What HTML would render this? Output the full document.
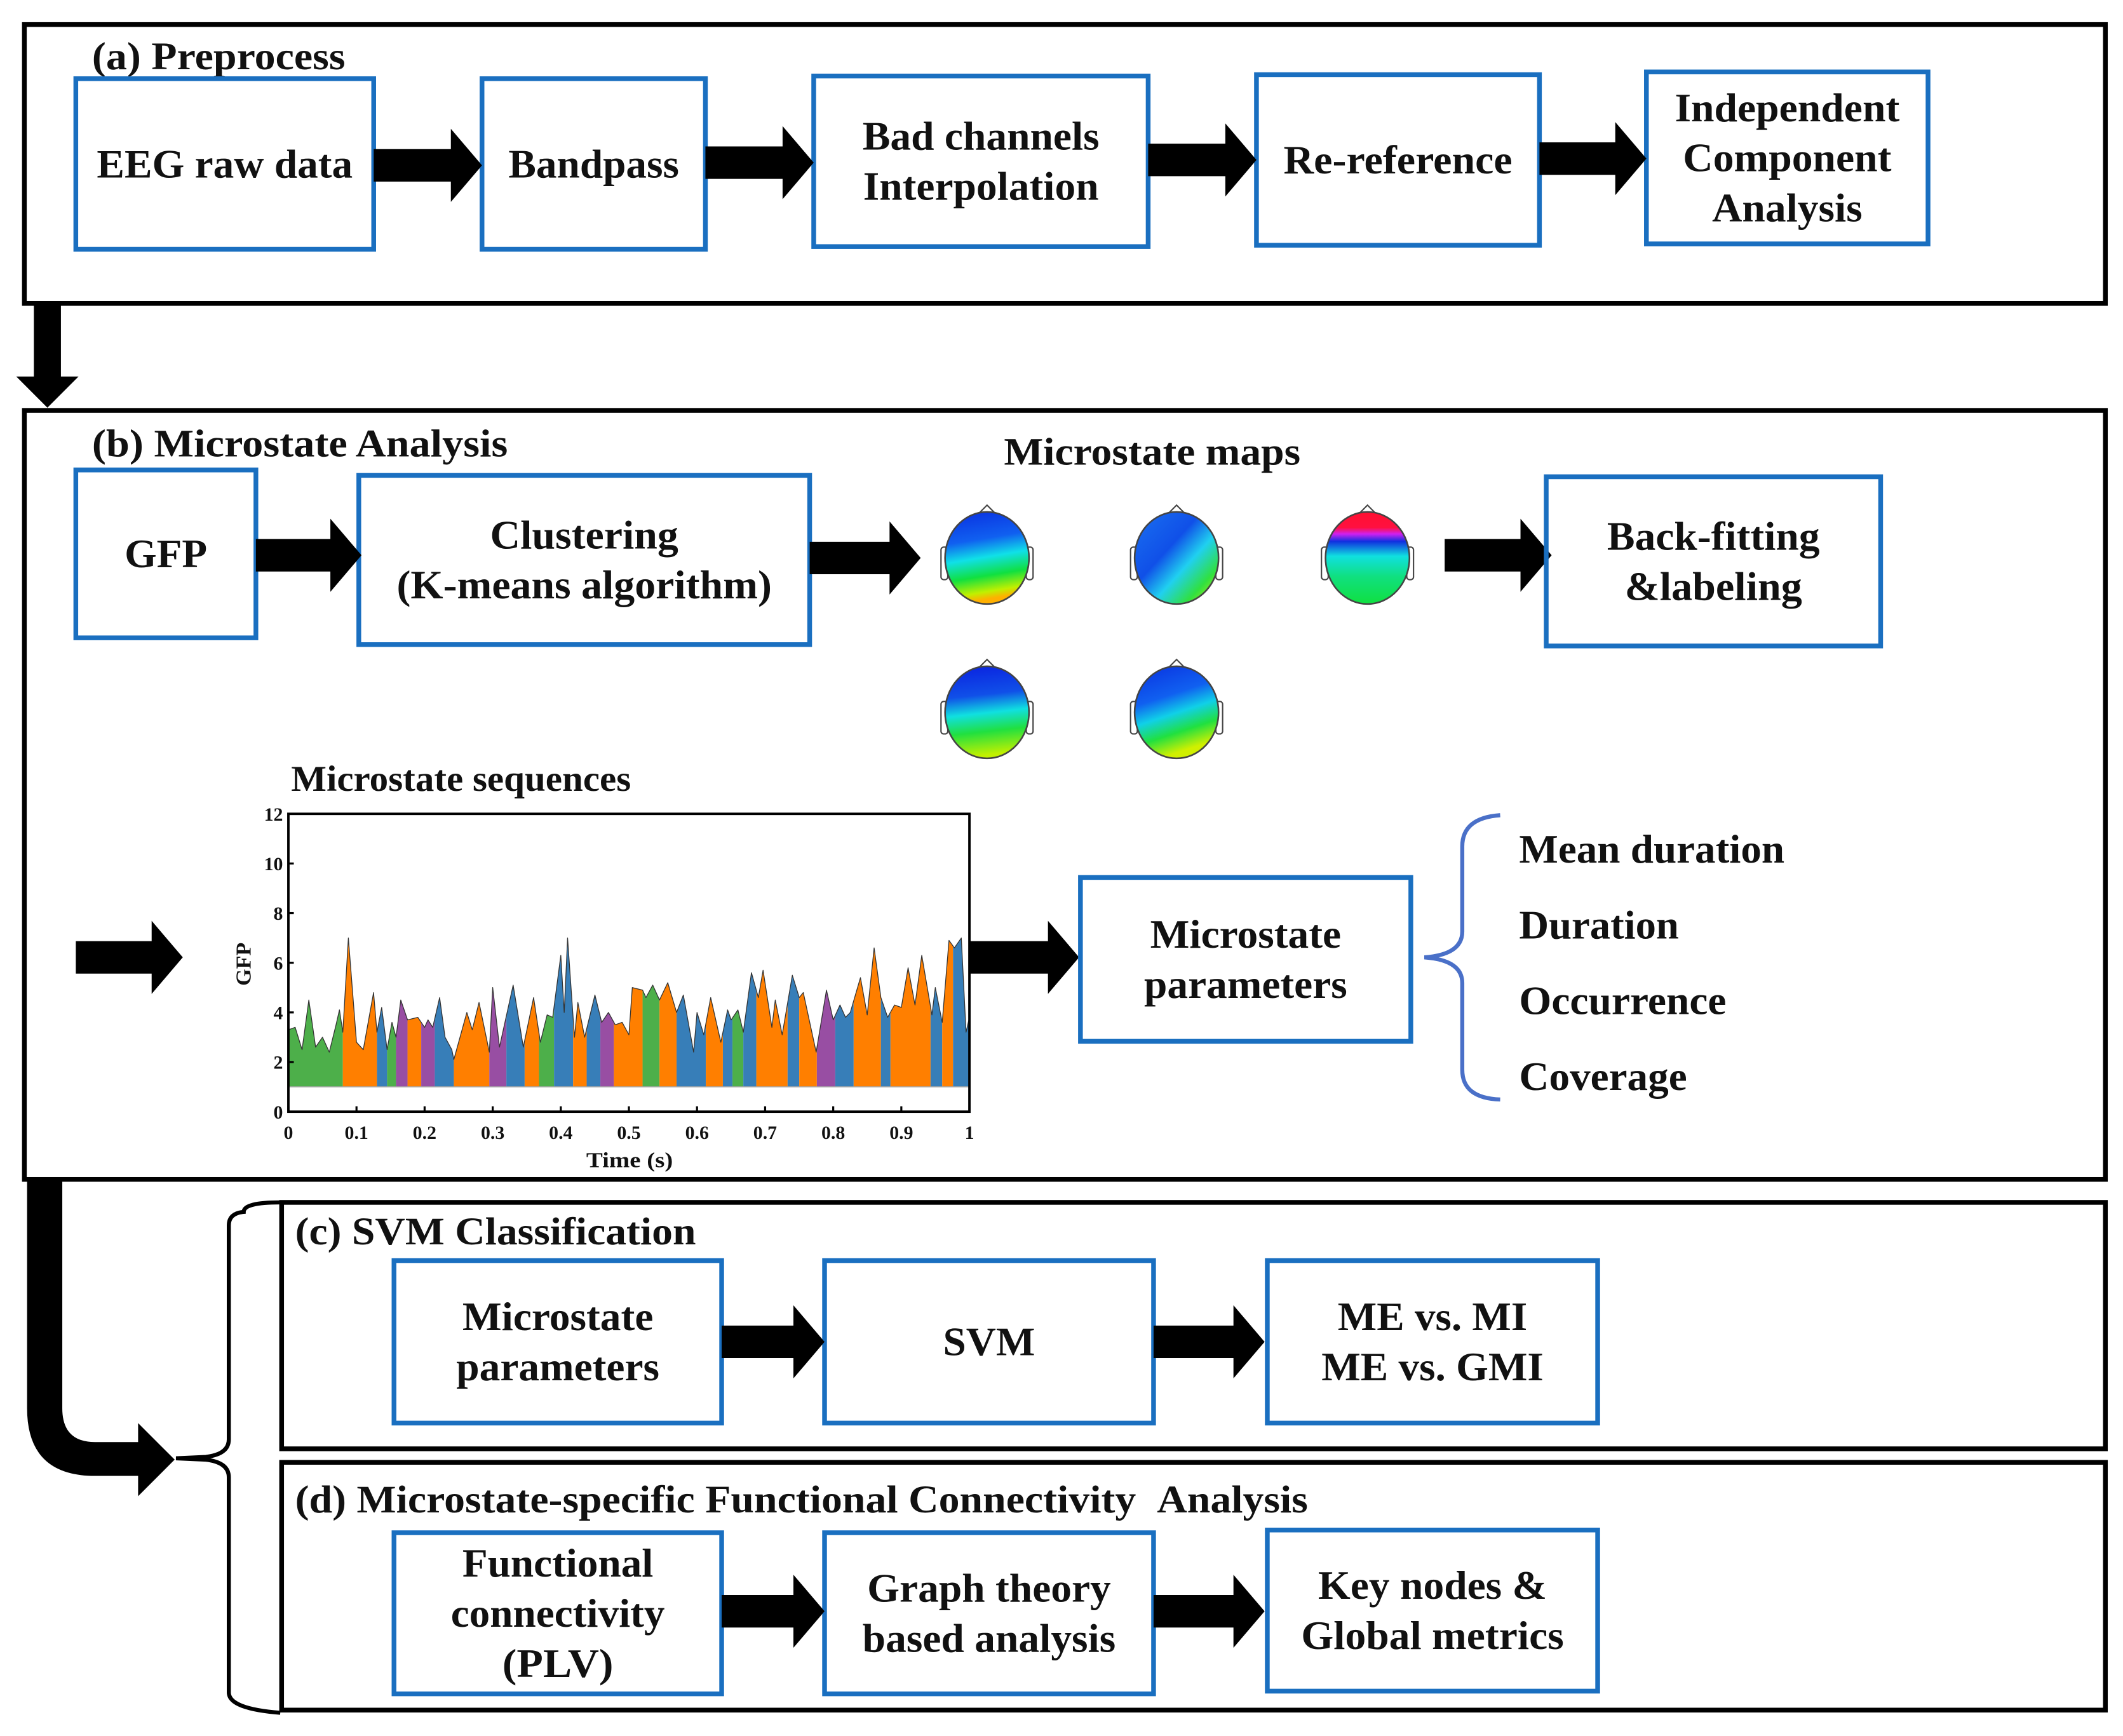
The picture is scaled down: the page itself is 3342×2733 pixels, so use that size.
<!DOCTYPE html>
<html><head><meta charset="utf-8">
<style>
html,body{margin:0;padding:0;background:#fff;}
svg{display:block;font-family:"Liberation Serif","Times New Roman",serif;}
text{font-family:"Liberation Serif","Times New Roman",serif;font-weight:700;fill:#111;}
</style></head>
<body>
<svg id="s" xmlns="http://www.w3.org/2000/svg" width="3342" height="2733" viewBox="0 0 1568 1282" font-family="Liberation Serif, serif">
<defs>
<linearGradient id="g1" x1="0" y1="0" x2="0.15" y2="1">
<stop offset="0" stop-color="#0a2ee0"/><stop offset="0.35" stop-color="#1060f0"/><stop offset="0.55" stop-color="#10e0e8"/><stop offset="0.75" stop-color="#10e040"/><stop offset="0.92" stop-color="#c0f000"/><stop offset="1" stop-color="#ffb000"/></linearGradient>
<linearGradient id="g2" x1="0" y1="0" x2="1" y2="1">
<stop offset="0" stop-color="#1a70f0"/><stop offset="0.4" stop-color="#1050e8"/><stop offset="0.6" stop-color="#20d0f0"/><stop offset="0.8" stop-color="#30e040"/><stop offset="1" stop-color="#e0f000"/></linearGradient>
<linearGradient id="g3" x1="0" y1="0" x2="0" y2="1">
<stop offset="0" stop-color="#ff1030"/><stop offset="0.17" stop-color="#ff1040"/><stop offset="0.24" stop-color="#d020f0"/><stop offset="0.32" stop-color="#1030e0"/><stop offset="0.48" stop-color="#10e0e0"/><stop offset="0.7" stop-color="#10e080"/><stop offset="1" stop-color="#10e040"/></linearGradient>
<linearGradient id="g4" x1="0" y1="0" x2="0.1" y2="1">
<stop offset="0" stop-color="#0a20e0"/><stop offset="0.35" stop-color="#1050e8"/><stop offset="0.55" stop-color="#10e0e0"/><stop offset="0.75" stop-color="#20e040"/><stop offset="1" stop-color="#c0f000"/></linearGradient>
<linearGradient id="g5" x1="0" y1="0" x2="0.3" y2="1">
<stop offset="0" stop-color="#0a30e0"/><stop offset="0.4" stop-color="#1060f0"/><stop offset="0.6" stop-color="#10d0e8"/><stop offset="0.8" stop-color="#20e040"/><stop offset="1" stop-color="#d0f000"/></linearGradient>
</defs>
<g id="main"></g>
</svg>
<script>
var S='';
function rect(x1,y1,x2,y2,c,w){S+='<rect x="'+x1+'" y="'+y1+'" width="'+(x2-x1)+'" height="'+(y2-y1)+'" fill="none" stroke="'+c+'" stroke-width="'+w+'"/>';}
function box(x1,y1,x2,y2){rect(x1,y1,x2,y2,'#1a6fc0',3.5);}
function txt(x,y,t,sz,anc,len){S+='<text x="'+x+'" y="'+y+'" font-family="Liberation Serif, serif" font-weight="bold" font-size="'+sz+'" text-anchor="'+(anc||'start')+'"'+(len?' textLength="'+len+'" lengthAdjust="spacingAndGlyphs"':'')+'>'+t+'</text>';}
function btxt(x1,y1,x2,y2,lines,lens,sz,lh){sz=sz||30;lh=lh||37;var cx=(x1+x2)/2,cy=(y1+y2)/2;var n=lines.length;for(var i=0;i<n;i++){txt(cx,cy+(i-(n-1)/2)*lh+sz*0.33,lines[i],sz,'middle',lens[i]);}}
function arr(x1,x2,y){var h=23;S+='<polygon points="'+x1+','+(y-12)+' '+(x2-h)+','+(y-12)+' '+(x2-h)+','+(y-27)+' '+x2+','+y+' '+(x2-h)+','+(y+27)+' '+(x2-h)+','+(y+12)+' '+x1+','+(y+12)+'" fill="#000"/>';}
rect(18,18,1555,224,'#000',3.5);
txt(68,51,'(a) Preprocess',29,'start',187);
box(56,58,276,184);btxt(56,58,276,184,['EEG raw data'],[189]);
box(356,58,521,184);btxt(356,58,521,184,['Bandpass'],[126]);
box(601,56,848,182);btxt(601,56,848,182,['Bad channels','Interpolation'],[175,174]);
box(928,55,1137,181);btxt(928,55,1137,181,['Re-reference'],[169]);
box(1216,53,1424,180);btxt(1216,53,1424,180,['Independent','Component','Analysis'],[166,154,111]);
arr(276,356,122);arr(521,601,120);arr(848,928,118);arr(1137,1216,117);
S+='<polygon points="25,224 45,224 45,278 58,278 35,301 12,278 25,278" fill="#000"/>';
rect(18,303,1555,871,'#000',3.5);
txt(68,337,'(b) Microstate Analysis',29,'start',307);
txt(851,343,'Microstate maps',29,'middle',219);
box(56,347,189,471);btxt(56,347,189,471,['GFP'],[61]);
box(265,351,598,476);btxt(265,351,598,476,['Clustering','(K-means algorithm)'],[139,277]);
arr(189,267,410);arr(598,680,412);arr(1067,1146,410);
box(1142,352,1389,477);btxt(1142,352,1389,477,['Back-fitting','&amp;labeling'],[157,131]);
function head(cx,cy,g){S+='<polygon points="'+(cx-8)+','+(cy-31)+' '+cx+','+(cy-39)+' '+(cx+8)+','+(cy-31)+'" fill="#fff" stroke="#444" stroke-width="1"/>';
S+='<rect x="'+(cx-34)+'" y="'+(cy-8)+'" width="5" height="24" rx="2" fill="#fff" stroke="#444" stroke-width="1"/>';
S+='<rect x="'+(cx+29)+'" y="'+(cy-8)+'" width="5" height="24" rx="2" fill="#fff" stroke="#444" stroke-width="1"/>';
S+='<ellipse cx="'+cx+'" cy="'+cy+'" rx="31" ry="34" fill="url(#'+g+')" stroke="#444" stroke-width="1.2"/>';}
head(729,412,'g1');head(869,412,'g2');head(1010,412,'g3');head(729,526,'g4');head(869,526,'g5');
txt(215,584,'Microstate sequences',27,'start',251);
var X0=213,X1=716,Y0=821,YU=220/12;
function px(t){return X0+t*(X1-X0);} function py(v){return Y0-v*YU;}
var pts=[[0,3.3],[.01,3.4],[.02,2.5],[.03,4.5],[.04,2.6],[.05,3],[.06,2.4],[.07,3.5],[.075,4.1],[.08,3.2],[.088,7],[.1,2.8],[.11,2.5],[.125,4.8],[.13,3.2],[.137,4.2],[.145,2.5],[.152,3.6],[.158,3],[.165,4.5],[.175,3.7],[.19,3.8],[.2,3.4],[.205,3.7],[.212,3.4],[.222,4.6],[.23,3],[.24,2.5],[.243,2.1],[.262,4],[.27,3.3],[.28,4.4],[.295,2.4],[.3,5],[.31,2.6],[.33,5.1],[.345,2.6],[.36,4.6],[.37,2.8],[.38,3.9],[.388,3.8],[.4,6.3],[.405,4],[.41,7],[.42,3],[.425,4.4],[.435,3],[.45,4.7],[.46,3.6],[.47,4],[.48,3.5],[.49,3.6],[.5,3.1],[.505,5],[.52,4.9],[.525,4.6],[.535,5.1],[.545,4.5],[.557,5.2],[.57,4],[.58,4.7],[.595,2.4],[.6,4],[.61,3.1],[.62,4.6],[.635,2.8],[.645,4.1],[.65,3.7],[.66,4.1],[.668,3.2],[.68,5.6],[.69,4.6],[.697,5.7],[.71,3.4],[.715,4.5],[.725,3.1],[.74,5.5],[.75,4.6],[.756,4.8],[.775,2.4],[.79,4.9],[.8,3.7],[.81,4.3],[.818,3.8],[.825,4],[.84,5.4],[.85,3.9],[.86,6.6],[.87,4.6],[.88,3.8],[.89,4.3],[.9,4.2],[.91,5.8],[.92,4.3],[.93,6.3],[.945,3.9],[.95,5],[.96,3.6],[.97,6.9],[.978,6.6],[.988,7],[.995,3.2],[1,3.8]];
function val(t){for(var i=1;i<pts.length;i++){if(t<=pts[i][0]){var a=pts[i-1],b=pts[i];return a[1]+(b[1]-a[1])*(t-a[0])/(b[0]-a[0]);}}return pts[pts.length-1][1];}
var G='#4daf4a',O='#ff7f00',B='#377eb8',P='#984ea3';
var seg=[[0,G],[.08,O],[.13,B],[.145,G],[.158,P],[.175,O],[.195,P],[.215,B],[.243,O],[.295,P],[.32,B],[.347,O],[.368,G],[.39,B],[.418,O],[.438,B],[.458,P],[.478,O],[.52,G],[.545,O],[.57,B],[.613,O],[.638,B],[.652,G],[.668,B],[.687,O],[.733,B],[.75,O],[.776,P],[.803,B],[.83,O],[.87,B],[.884,O],[.943,B],[.96,O],[.976,B],[1,null]];
for(var k=0;k<seg.length-1;k++){var t0=seg[k][0],t1=seg[k+1][0];var p=px(t0).toFixed(1)+','+py(1)+' ';
var ts=[t0];pts.forEach(function(q){if(q[0]>t0&&q[0]<t1)ts.push(q[0]);});ts.push(t1);
ts.forEach(function(t){p+=px(t).toFixed(1)+','+py(val(t)).toFixed(1)+' ';});p+=px(t1).toFixed(1)+','+py(1);
S+='<polygon points="'+p+'" fill="'+seg[k][1]+'"/>';}
var line='';pts.forEach(function(q){line+=px(q[0]).toFixed(1)+','+py(q[1]).toFixed(1)+' ';});
S+='<polyline points="'+line+'" fill="none" stroke="#333" stroke-width="0.6" stroke-linejoin="round"/>';
S+='<line x1="'+X0+'" y1="'+py(1)+'" x2="'+X1+'" y2="'+py(1)+'" stroke="#aaa" stroke-width="0.8"/>';
rect(X0,601,X1,821,'#000',1.8);
for(var v=0;v<=12;v+=2){var y=py(v);S+='<line x1="'+X0+'" y1="'+y+'" x2="'+(X0+4)+'" y2="'+y+'" stroke="#000" stroke-width="1.5"/>';txt(X0-4,y+5,v,14,'end');}
for(var i=0;i<=10;i++){var x=px(i/10);S+='<line x1="'+x+'" y1="821" x2="'+x+'" y2="817" stroke="#000" stroke-width="1.5"/>';txt(x,841,i==0?'0':(i==10?'1':'0.'+i),14,'middle');}
S+='<text x="185" y="712" font-family="Liberation Serif, serif" font-weight="bold" font-size="16" text-anchor="middle" transform="rotate(-90 185 712)">GFP</text>';
txt(465,862,'Time (s)',16,'middle',64);
arr(56,135,707);arr(716,797,707);
box(798,648,1042,769);btxt(798,648,1042,769,['Microstate','parameters'],[141,150]);
S+='<path d="M1108,602 Q1080,604 1080,625 L1080,688 Q1080,705 1052,707 Q1080,709 1080,726 L1080,790 Q1080,811 1108,812" fill="none" stroke="#4a70c8" stroke-width="3"/>';
txt(1122,637,'Mean duration',30,'start',196);txt(1122,693,'Duration',30,'start',118);txt(1122,749,'Occurrence',30,'start',153);txt(1122,805,'Coverage',30,'start',124);
S+='<path d="M20,871 L46,871 L46,1040 Q46,1065 70,1065 L102,1065 L102,1051 L129,1078 L102,1105 L102,1090 L70,1090 Q20,1090 20,1040 Z" fill="#000"/>';
S+='<path d="M207,888 Q180,888 180,895 Q169,896 169,905 L169,1063 Q169,1074 152,1076 L130,1077 L152,1078 Q169,1080 169,1091 L169,1250 Q169,1262 207,1265" fill="none" stroke="#000" stroke-width="3"/>';
rect(208,888,1555,1070,'#000',3.5);
txt(218,919,'(c) SVM Classification',29,'start',296);
box(291,931,533,1051);btxt(291,931,533,1051,['Microstate','parameters'],[141,150]);
box(609,931,852,1051);btxt(609,931,852,1051,['SVM'],[68]);
box(936,931,1180,1051);btxt(936,931,1180,1051,['ME vs. MI','ME vs. GMI'],[140,164]);
arr(533,609,991);arr(852,934,991);
rect(208,1080,1555,1263,'#000',3.5);
txt(218,1117,'(d) Microstate-specific Functional Connectivity &#160;Analysis',29,'start',748);
box(291,1132,533,1251);btxt(291,1132,533,1251,['Functional','connectivity','(PLV)'],[141,158,82]);
box(609,1132,852,1251);btxt(609,1132,852,1251,['Graph theory','based analysis'],[180,187]);
box(936,1130,1180,1249);btxt(936,1130,1180,1249,['Key nodes &amp;','Global metrics'],[169,194]);
arr(533,609,1190);arr(852,934,1190);
document.getElementById('main').innerHTML=S;
</script>
</body></html>
